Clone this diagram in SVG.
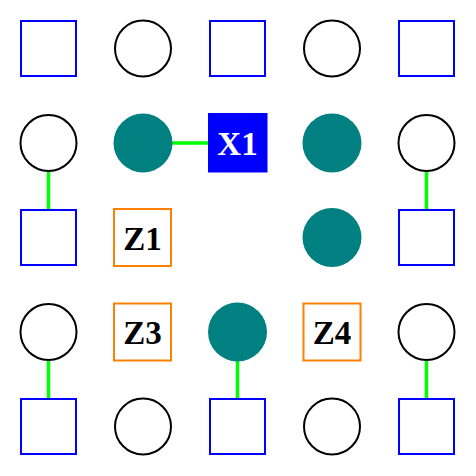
<svg xmlns="http://www.w3.org/2000/svg" width="476" height="476" viewBox="0 0 476 476">
<style>
.sq{fill:#fff;stroke:#0000ff;stroke-width:2}
.ci{fill:#fff;stroke:#000;stroke-width:2}
.te{fill:#008080}
.z{fill:#fff;stroke:#ff8000;stroke-width:2}
.x{fill:#0000ff}
.e{stroke:#00ff00;stroke-width:3.5;fill:none}
text{font-family:"Liberation Serif","DejaVu Serif",serif;font-weight:bold;font-size:33px;text-anchor:middle}
.w{fill:#fff}
.k{fill:#000}
</style>
<rect width="476" height="476" fill="#fff"/>
<g id="edges">
<line class="e" x1="48.5" y1="143" x2="48.5" y2="237.5"/>
<line class="e" x1="143" y1="143" x2="237.5" y2="143"/>
<line class="e" x1="426.5" y1="143" x2="426.5" y2="237.5"/>
<line class="e" x1="48.5" y1="332" x2="48.5" y2="426.5"/>
<line class="e" x1="237.5" y1="332" x2="237.5" y2="426.5"/>
<line class="e" x1="426.5" y1="332" x2="426.5" y2="426.5"/>
</g>
<g id="n00"><rect class="sq" x="21" y="21" width="55" height="55"/></g>
<g id="n10"><circle class="ci" cx="143" cy="48.5" r="28"/></g>
<g id="n20"><rect class="sq" x="210" y="21" width="55" height="55"/></g>
<g id="n30"><circle class="ci" cx="332" cy="48.5" r="28"/></g>
<g id="n40"><rect class="sq" x="399" y="21" width="55" height="55"/></g>
<g id="n01"><circle class="ci" cx="48.5" cy="143" r="28"/></g>
<g id="n11"><circle class="te" cx="143" cy="143" r="29.5"/></g>
<g id="X1"><rect class="x" x="208" y="113" width="59.5" height="59.5"/><text class="w" x="237.5" y="154.5">X1</text></g>
<g id="n31"><circle class="te" cx="332" cy="143" r="29.5"/></g>
<g id="n41"><circle class="ci" cx="426.5" cy="143" r="28"/></g>
<g id="n02"><rect class="sq" x="21" y="210" width="55" height="55"/></g>
<g id="Z1"><rect class="z" x="114" y="209" width="57" height="57"/><text class="k" x="142.5" y="249.5">Z1</text></g>
<g id="n32"><circle class="te" cx="332" cy="237.5" r="29.5"/></g>
<g id="n42"><rect class="sq" x="399" y="210" width="55" height="55"/></g>
<g id="n03"><circle class="ci" cx="48.5" cy="332" r="28"/></g>
<g id="Z3"><rect class="z" x="114" y="303.5" width="57" height="57"/><text class="k" x="142.5" y="344">Z3</text></g>
<g id="n23"><circle class="te" cx="237.5" cy="332" r="29.5"/></g>
<g id="Z4"><rect class="z" x="303.5" y="303.5" width="57" height="57"/><text class="k" x="332" y="344">Z4</text></g>
<g id="n43"><circle class="ci" cx="426.5" cy="332" r="28"/></g>
<g id="n04"><rect class="sq" x="21" y="399" width="55" height="55"/></g>
<g id="n14"><circle class="ci" cx="143" cy="426.5" r="28"/></g>
<g id="n24"><rect class="sq" x="210" y="399" width="55" height="55"/></g>
<g id="n34"><circle class="ci" cx="332" cy="426.5" r="28"/></g>
<g id="n44"><rect class="sq" x="399" y="399" width="55" height="55"/></g>
</svg>
